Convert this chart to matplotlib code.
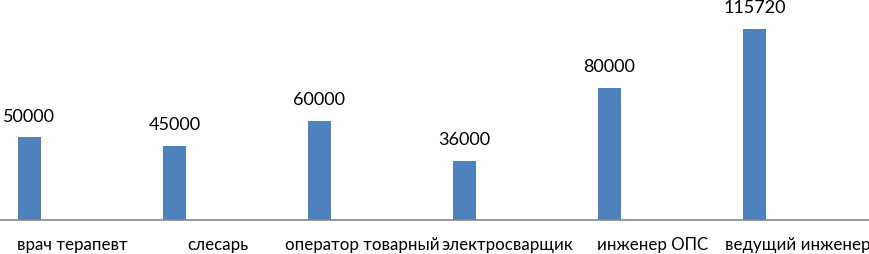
import matplotlib
matplotlib.use("Agg")
import matplotlib.pyplot as plt

# -------- Daten --------
professions = ["врач терапевт", "слесарь", "оператор товарный",
               "электросварщик", "инженер ОПС", "ведущий инженер"]
salaries = [50000, 45000, 60000, 36000, 80000, 115720]

plt.rcParams["font.family"] = ["Lato", "DejaVu Sans"]

fig = plt.figure(figsize=(8.7, 2.54), dpi=100)
ax = fig.add_axes([0, 34 / 254, 1, 220 / 254])

x = list(range(len(professions)))
bars = ax.bar([i - 0.297 for i in x], salaries, width=0.155, color="#4F81BD")

for b, v in zip(bars, salaries):
    ax.annotate(str(v), (b.get_x() + b.get_width() / 2, v),
                xytext=(0, 15), textcoords="offset points",
                ha="center", va="center", fontsize=13, color="black",
                annotation_clip=False)

ax.set_xlim(-0.5, len(professions) - 0.5)
ax.set_ylim(0, 133300)
ax.set_xticks(x)
ax.set_xticklabels(professions, fontsize=12.2)
ax.tick_params(axis="x", length=0, pad=12)
ax.set_yticks([])

for s in ["top", "left", "right"]:
    ax.spines[s].set_visible(False)
ax.spines["bottom"].set_color("#868686")
ax.spines["bottom"].set_linewidth(1.2)

fig.savefig("out.png", dpi=100)
